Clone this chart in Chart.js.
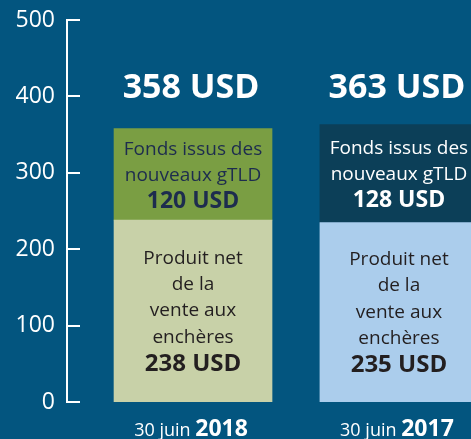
<!DOCTYPE html>
<html>
<head>
<meta charset="utf-8">
<script src="https://cdn.jsdelivr.net/npm/chart.js@4.4.1/dist/chart.umd.min.js"></script>
<style>
  html, body { margin: 0; padding: 0; background: #03557f; overflow: hidden; }
  #wrap { width: 471px; height: 439px; position: relative; }
</style>
</head>
<body>
<div id="wrap"><canvas id="chart"></canvas></div>
<script>
// Données (millions USD)
const categories = ['2018', '2017'];
const datePrefix = '30 juin ';
const gtldFunds = [120, 128];
const auctionProceeds = [238, 235];
const totals = [358, 363];
const yTicks = [0, 100, 200, 300, 400, 500];
const gtldLines = ['Fonds issus des', 'nouveaux gTLD'];
const auctionLines = ['Produit net', 'de la', 'vente aux', 'enchères'];

const FONT = '"Open Sans", "Noto Sans", sans-serif';
const gtldColors = ['#7a9e43', '#0c3f58'];
const auctionColors = ['#c8d1a8', '#abcdec'];
const gtldText = ['#1d2c4e', '#ffffff'];
const auctionText = '#231f20';

// petits traits de graduation à droite de l'axe
const tickMarks = {
  id: 'tickMarks',
  afterDraw(chart) {
    const y = chart.scales.y;
    const ctx = chart.ctx;
    ctx.save();
    ctx.strokeStyle = '#ffffff';
    ctx.lineWidth = 2;
    y.ticks.forEach(t => {
      const py = Math.round(y.getPixelForValue(t.value));
      ctx.beginPath();
      ctx.moveTo(y.right - 1, py);
      ctx.lineTo(y.right + 13, py);
      ctx.stroke();
    });
    ctx.restore();
  }
};

function drawLines(ctx, lines, x, cy, spacing) {
  const start = cy - (lines.length - 1) * spacing / 2;
  lines.forEach((l, i) => {
    ctx.font = l.font;
    ctx.fillStyle = l.color;
    ctx.fillText(l.text, x, start + i * spacing);
  });
}

// textes dans et au-dessus des barres, et étiquettes de dates
const barLabels = {
  id: 'barLabels',
  afterDatasetsDraw(chart) {
    const ctx = chart.ctx;
    const yScale = chart.scales.y;
    const bottomMeta = chart.getDatasetMeta(0);
    const topMeta = chart.getDatasetMeta(1);
    const totalsY = yScale.getPixelForValue(Math.max(...totals)) - 36;
    ctx.save();
    ctx.textAlign = 'center';
    ctx.textBaseline = 'middle';
    categories.forEach((cat, i) => {
      const bot = bottomMeta.data[i];
      const top = topMeta.data[i];
      const x = bot.x;

      // segment du bas
      const botLines = auctionLines.map(t => ({ text: t, font: '19px ' + FONT, color: auctionText }));
      botLines.push({ text: auctionProceeds[i] + ' USD', font: 'bold 24px ' + FONT, color: auctionText });
      drawLines(ctx, botLines, x, (bot.y + bot.base) / 2, 26.3);

      // segment du haut
      const topLines = gtldLines.map(t => ({ text: t, font: '19px ' + FONT, color: gtldText[i] }));
      topLines.push({ text: gtldFunds[i] + ' USD', font: 'bold 23px ' + FONT, color: gtldText[i] });
      drawLines(ctx, topLines, x, (top.y + top.base) / 2 + 1, 26);

      // total
      ctx.font = 'bold 34px ' + FONT;
      ctx.fillStyle = '#ffffff';
      ctx.fillText(totals[i] + ' USD', x - 2, totalsY);

      // date
      ctx.textAlign = 'left';
      ctx.textBaseline = 'alphabetic';
      ctx.font = '18px ' + FONT;
      const w1 = ctx.measureText(datePrefix).width;
      ctx.font = 'bold 23px ' + FONT;
      const w2 = ctx.measureText(cat).width;
      const sx = x - 2 - (w1 + w2) / 2;
      ctx.font = '18px ' + FONT;
      ctx.fillText(datePrefix, sx, 436);
      ctx.font = 'bold 23px ' + FONT;
      ctx.fillText(cat, sx + w1, 436);
      ctx.textAlign = 'center';
      ctx.textBaseline = 'middle';
    });
    ctx.restore();
  }
};

new Chart(document.getElementById('chart'), {
  type: 'bar',
  data: {
    datasets: [
      {
        label: 'Produit net de la vente aux enchères',
        data: auctionProceeds.map((v, i) => ({ x: i, y: v })),
        backgroundColor: auctionColors,
        borderWidth: 0
      },
      {
        label: 'Fonds issus des nouveaux gTLD',
        data: gtldFunds.map((v, i) => ({ x: i, y: v })),
        backgroundColor: gtldColors,
        borderWidth: 0
      }
    ]
  },
  options: {
    responsive: true,
    maintainAspectRatio: false,
    animation: false,
    layout: { padding: { top: 20, left: 0, right: 0, bottom: 0 } },
    datasets: { bar: { barThickness: 158 } },
    plugins: { legend: { display: false }, tooltip: { enabled: false } },
    scales: {
      x: {
        type: 'linear',
        stacked: true,
        offset: false,
        min: -0.612,
        max: 1.35,
        grid: { display: false },
        border: { display: false },
        ticks: { display: false },
        afterFit(scale) { scale.height = 37; }
      },
      y: {
        stacked: true,
        min: 0,
        max: 500,
        afterBuildTicks(scale) { scale.ticks = yTicks.map(v => ({ value: v })); },
        grid: { display: false, drawTicks: false },
        border: { display: true, color: '#ffffff', width: 2 },
        ticks: {
          color: '#ffffff',
          padding: 12,
          font: { family: FONT, size: 23 }
        },
        afterFit(scale) {
          scale.width = 67;
          scale.paddingTop = 0;
          scale.paddingBottom = 0;
        }
      }
    }
  },
  plugins: [tickMarks, barLabels]
});
</script>
</body>
</html>
